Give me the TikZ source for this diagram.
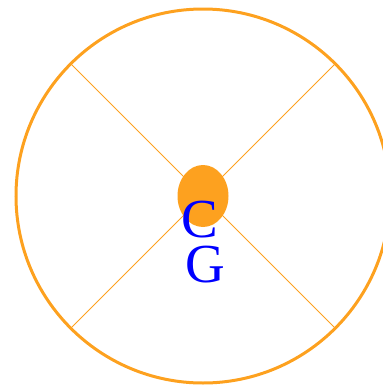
\documentclass[tikz,border=0pt]{standalone}
\usepackage{fontspec}
\setmainfont{Liberation Serif}
\usetikzlibrary{calc,shapes.geometric}
\definecolor{ring}{RGB}{253,161,31}
\definecolor{letter}{RGB}{0,0,255}
\begin{document}
\begin{tikzpicture}[x=1pt,y=-1pt,
  ringline/.style={draw=ring,line width=3pt},
  spoke/.style={draw=ring,line width=1pt},
  letterlab/.style={text=letter,font=\fontsize{55}{55}\selectfont,inner sep=0pt}]
\useasboundingbox (0,0) rectangle (383,386);
\coordinate (o) at (203,196);
\draw[ringline] (o) circle (187);
\coordinate (tl) at ($(o)+(-132.2,-132.2)$);
\coordinate (tr) at ($(o)+(132.2,-132.2)$);
\coordinate (bl) at ($(o)+(-132.2,132.2)$);
\coordinate (br) at ($(o)+(132.2,132.2)$);
\draw[spoke] (tl) -- (br);
\draw[spoke] (tr) -- (bl);
\node[fill=ring,ellipse,minimum width=51pt,minimum height=62pt,inner sep=0pt] (dot) at (o) {};
\node[letterlab] (c) at (200,220) {C};
\node[letterlab] (g) at (205,265) {G};
\end{tikzpicture}
\end{document}
